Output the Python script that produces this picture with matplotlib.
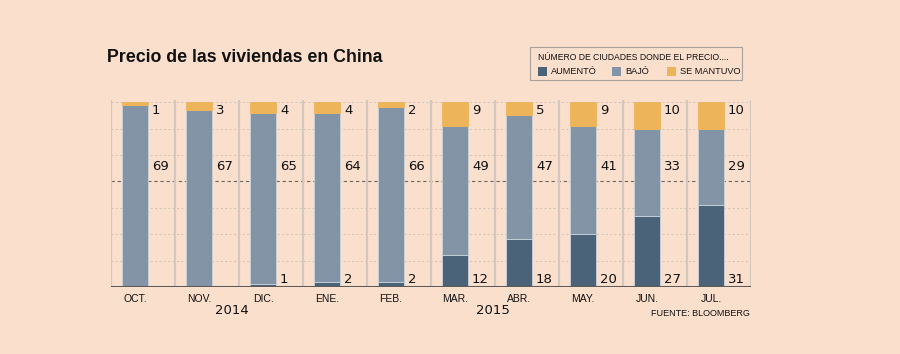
import numpy as np
import matplotlib.pyplot as plt

meses = ['OCT.', 'NOV.', 'DIC.', 'ENE.', 'FEB.', 'MAR.', 'ABR.', 'MAY.', 'JUN.', 'JUL.']
aumento = [0, 0, 1, 2, 2, 12, 18, 20, 27, 31]
bajo = [69, 67, 65, 64, 66, 49, 47, 41, 33, 29]
se_mantuvo = [1, 3, 4, 4, 2, 9, 5, 9, 10, 10]

c_aum = '#4A6379'
c_baj = '#8294A5'
c_man = '#EDB45A'
fondo = '#FADFCD'
cond = ['Liberation Sans', 'DejaVu Sans']

fig = plt.figure(figsize=(9, 3.54), dpi=100, facecolor=fondo)
ax = fig.add_axes([111/900, 1-287/354, 640/900, 187/354])
ax.set_facecolor(fondo)

x = np.arange(len(meses))
aum = np.array(aumento)
baj = np.array(bajo)
man = np.array(se_mantuvo)
off = -0.125
w = 0.41

# lineas de fondo
for y in range(10, 80, 10):
    if y == 40:
        ax.axhline(y, color='#6E6660', lw=0.8, ls=(0, (3, 2.5)), zorder=1)
    else:
        ax.axhline(y, color='#CFC3B8', lw=0.7, ls=(0, (2, 2.5)), zorder=1)
for s in np.arange(-0.5, 10, 1):
    ax.axvline(s, color='#D3C8BE', lw=1.6, zorder=1)

ax.bar(x+off, aum, w, color=c_aum, edgecolor='#C9D3DC', lw=0.6, zorder=3)
ax.bar(x+off, baj, w, bottom=aum, color=c_baj, edgecolor='#C9D3DC', lw=0.6, zorder=3)
ax.bar(x+off, man, w, bottom=aum+baj, color=c_man, edgecolor=c_man, lw=0.6, zorder=3)

for i in x:
    tx = i + 0.14
    ax.text(tx, 66.9, str(man[i]), fontsize=9.5, va='center', ha='left', color='#111111')
    ax.text(tx, 45.5, str(baj[i]), fontsize=9.5, va='center', ha='left', color='#111111')
    if aum[i] > 0:
        ax.text(tx, 2.7, str(aum[i]), fontsize=9.5, va='center', ha='left', color='#111111')

ax.axhline(0, color='#5E5A57', lw=2.2, zorder=4)
ax.set_xlim(-0.5, 9.5)
ax.set_ylim(0, 70.8)
ax.set_xticks(x+off)
ax.set_xticklabels(meses, family=cond, fontsize=7.5, color='#111111')
ax.tick_params(axis='x', length=0, pad=5)
ax.set_yticks([])
for sp in ax.spines.values():
    sp.set_visible(False)

fig.text(232/900, 1-310/354, '2014', fontsize=9.5, ha='center', va='center', color='#111111')
fig.text(493/900, 1-310/354, '2015', fontsize=9.5, ha='center', va='center', color='#111111')
fig.text(750/900, 1-313/354, 'FUENTE: BLOOMBERG', family=cond, fontsize=6.5,
         ha='right', va='center', color='#111111')

fig.text(107/900, 1-58/354, 'Precio de las viviendas en China', family=cond,
         fontsize=12.8, fontweight='bold', ha='left', va='center', color='#111111')

# leyenda
caja = plt.Rectangle((530/900, 1-80/354), 212/900, 33/354, transform=fig.transFigure,
                     facecolor='none', edgecolor='#A8A09A', lw=0.8)
fig.add_artist(caja)
fig.text(538/900, 1-57/354, 'NÚMERO DE CIUDADES DONDE EL PRECIO....', family=cond,
         fontsize=6.2, ha='left', va='center', color='#111111')
for px, col, lab in [(538, c_aum, 'AUMENTÓ'), (612, c_baj, 'BAJÓ'), (667, c_man, 'SE MANTUVO')]:
    fig.add_artist(plt.Rectangle((px/900, 1-76/354), 9/900, 9/354, transform=fig.transFigure,
                                 facecolor=col, edgecolor='none'))
    fig.text((px+13)/900, 1-71.5/354, lab, family=cond, fontsize=6.6, ha='left',
             va='center', color='#111111')

fig.savefig('out.png', dpi=100, facecolor=fondo)
